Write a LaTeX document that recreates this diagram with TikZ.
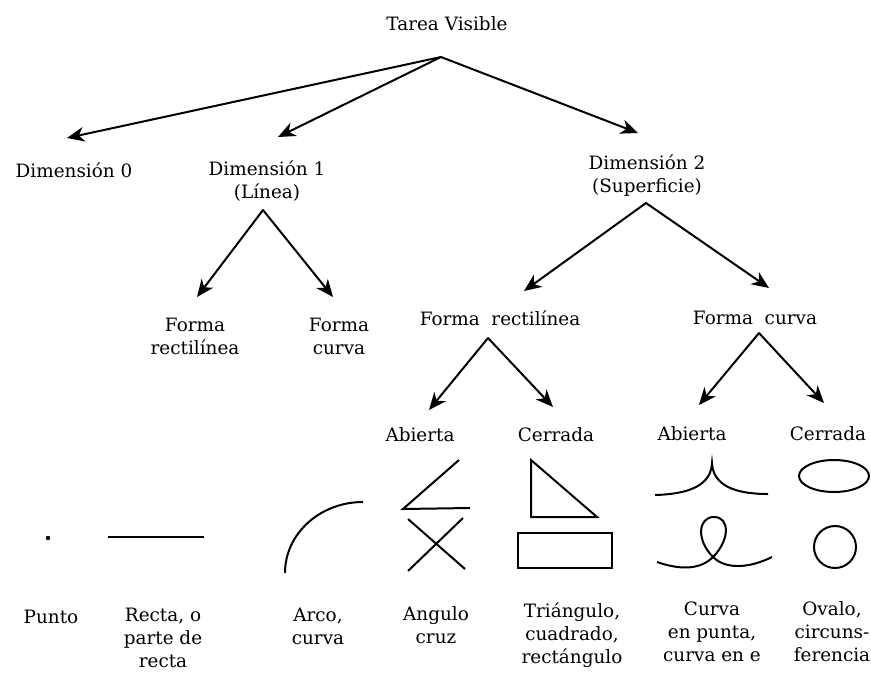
\documentclass[tikz,border=0pt]{standalone}
\usepackage{fontspec}
\setmainfont{DejaVu Serif}
\usetikzlibrary{arrows.meta}

\begin{document}
\begin{tikzpicture}[
  x=0.75pt, y=-0.75pt,
  every node/.style={anchor=north, inner sep=0pt, align=center, font=\fontsize{13.8}{17.2}\selectfont},
  flecha/.style={line width=1.5pt, line cap=round, -{Stealth[length=13pt, width=11pt, inset=4pt]}},
  trazo/.style={line width=1.5pt}
  ]
  \useasboundingbox (0,0) rectangle (871,672);
  \node (tv) at (447,16) {Tarea Visible};
  \node (d0) at (74,163) {Dimensión 0};
  \node (d1) at (267,161) {Dimensión 1\\(Línea)};
  \node (d2) at (647,155) {Dimensión 2\\(Superficie)};
  \node (f1) at (195,318) {Forma\\rectilínea};
  \node (f2) at (339,318) {Forma\\curva};
  \node (f3) at (500,311) {Forma\ \ rectilínea};
  \node (f4) at (755,311) {Forma\ \ curva};
  \node (a1) at (420,427) {Abierta};
  \node (c1) at (556,427) {Cerrada};
  \node (a2) at (692,426) {Abierta};
  \node (c2) at (828,426) {Cerrada};
  \node (punto) at (51,610) {Punto};
  \node (recta) at (163,608) {Recta, o\\parte de\\recta};
  \node (arco) at (318,608) {Arco,\\curva};
  \node (angulo) at (436,606) {Angulo\\cruz};
  \node (trian) at (572,603) {Triángulo,\\cuadrado,\\rectángulo};
  \node (curva) at (712,602) {Curva\\en punta,\\curva en e};
  \node (ovalo) at (832,601) {Ovalo,\\circuns-\\ferencia};

  \coordinate (tvP) at ([shift={(-6,41)}]tv.north);
  \coordinate (d1P) at ([shift={(-4,49)}]d1.north);
  \coordinate (d2P) at ([shift={(-1,48)}]d2.north);
  \coordinate (f3P) at ([shift={(-12,27)}]f3.north);
  \coordinate (f4P) at ([shift={(4,22)}]f4.north);

  \draw[flecha] (tvP) -- ([shift={(-7,-25)}]d0.north);
  \draw[flecha] (tvP) -- ([shift={(11,-24)}]d1.north);
  \draw[flecha] (tvP) -- ([shift={(-9,-22)}]d2.north);
  \draw[flecha] (d1P) -- ([shift={(2,-21)}]f1.north);
  \draw[flecha] (d1P) -- ([shift={(-6,-21)}]f2.north);
  \draw[flecha] (d2P) -- ([shift={(24,-20)}]f3.north);
  \draw[flecha] (d2P) -- ([shift={(14,-23)}]f4.north);
  \draw[flecha] (f3P) -- ([shift={(9,-17)}]a1.north);
  \draw[flecha] (f3P) -- ([shift={(-3,-20)}]c1.north);
  \draw[flecha] (f4P) -- ([shift={(7,-21)}]a2.north);
  \draw[flecha] (f4P) -- ([shift={(-4,-23)}]c2.north);

  \fill (48,538) circle (2.2);
  \draw[trazo] (108,537) -- (204,537);
  \draw[trazo] (285,573) arc[start angle=180, end angle=270, x radius=78, y radius=71];
  \draw[trazo] (459,460) -- (403,509) -- (470,508);
  \draw[trazo] (408,519) -- (465,569) (408,571) -- (463,518);
  \draw[trazo] (531,460) -- (531,517) -- (597,517) -- cycle;
  \draw[trazo] (518,533) rectangle (612,568);
  \draw[trazo] (655,495) .. controls (690,494) and (711,485) .. (712,463)
    .. controls (713,485) and (734,494) .. (768,494);
  \draw[trazo] (657,562) .. controls (680,570) and (700,570) .. (713,557)
    .. controls (730,540) and (730,517) .. (714,517)
    .. controls (698,517) and (696,540) .. (713,557)
    .. controls (726,570) and (750,568) .. (772,557);
  \draw[trazo] (834,476) ellipse[x radius=35, y radius=16];
  \draw[trazo] (835,547) circle (21);
\end{tikzpicture}
\end{document}
